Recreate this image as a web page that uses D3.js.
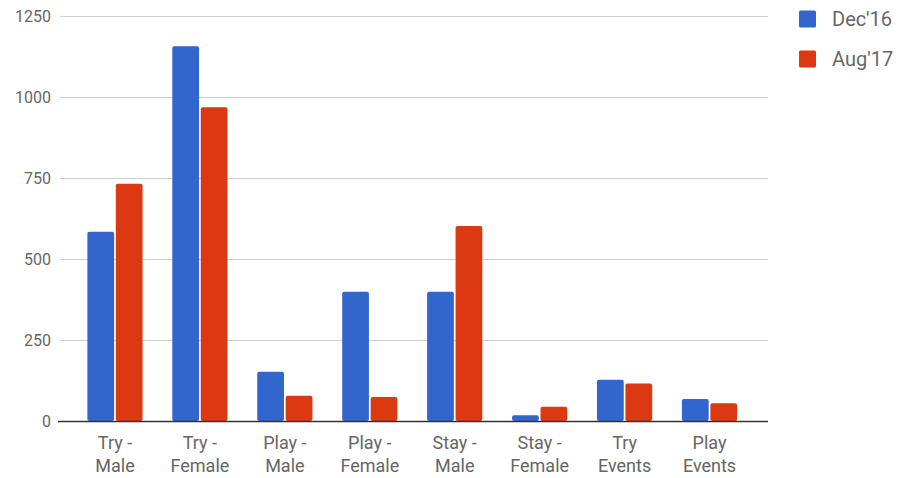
<!DOCTYPE html>
<html><head><meta charset="utf-8">
<script src="https://cdn.jsdelivr.net/npm/d3@7"></script>
<style>html,body{margin:0;padding:0;background:#fff;}svg{display:block;}</style>
</head><body>
<svg id="c" width="914" height="478"></svg>
<script>
const categories = [["Try -","Male"],["Try -","Female"],["Play -","Male"],["Play -","Female"],["Stay -","Male"],["Stay -","Female"],["Try","Events"],["Play","Events"]];
const seriesNames = ["Dec'16","Aug'17"];
const dec16 = [584, 1157, 152, 399, 399, 18, 127, 68];
const aug17 = [732, 968, 78, 74, 602, 44, 116, 55];
const yTicks = [0, 250, 500, 750, 1000, 1250];
const colors = ["#3366cc", "#dc3912"];

const svg = d3.select("#c");
const y = d3.scaleLinear().domain([0, 1250]).range([421, 16]);
const x0 = d3.scaleBand().domain(d3.range(categories.length)).range([72.5, 752]).paddingInner(0.35).paddingOuter(0.175);
const x1 = d3.scaleBand().domain([0,1]).range([0, x0.bandwidth()]).paddingInner(0.06);

// grid
const yAxis = d3.axisLeft(y).tickValues(yTicks).tickSize(-708).tickFormat(d3.format("d")).tickPadding(9);
const gy = svg.append("g").attr("transform","translate(60,0)").call(yAxis);
gy.select(".domain").remove();
gy.selectAll(".tick line").attr("stroke","#d0d0d0").attr("stroke-width",1);
gy.selectAll(".tick text").attr("fill","#666").style("font-family","Roboto, sans-serif").style("font-size","16px");

// bars
const data = [dec16, aug17];
const groups = svg.append("g").selectAll("g").data(categories).join("g")
  .attr("transform", (d,i) => `translate(${x0(i)},0)`);
groups.selectAll("rect").data((d,i) => data.map((s,k) => ({k, v: s[i]}))).join("rect")
  .attr("x", d => x1(d.k)).attr("width", x1.bandwidth())
  .attr("y", d => y(d.v)).attr("height", d => y(0) - y(d.v))
  .attr("rx", 2).attr("fill", d => colors[d.k]);

// baseline
svg.append("line").attr("x1",58).attr("x2",768).attr("y1",y(0)+0.5).attr("y2",y(0)+0.5)
  .attr("stroke","#333").attr("stroke-width",1.5);

// x labels
const xl = svg.append("g").selectAll("text").data(categories).join("text")
  .attr("x", (d,i) => x0(i) + x0.bandwidth()/2).attr("y", 449)
  .attr("text-anchor","middle").attr("fill","#666")
  .style("font-family","Roboto, sans-serif").style("font-size","18px");
xl.each(function(d){
  const t = d3.select(this);
  t.append("tspan").attr("x", t.attr("x")).text(d[0]);
  t.append("tspan").attr("x", t.attr("x")).attr("dy", 23).text(d[1]);
});

// legend
const lg = svg.append("g").selectAll("g").data(seriesNames).join("g")
  .attr("transform", (d,i) => `translate(799,${10.5 + i*40})`);
lg.append("rect").attr("width",17).attr("height",17).attr("rx",1.5).attr("fill",(d,i)=>colors[i]);
lg.append("text").attr("x",33).attr("y",15.5).text(d=>d).attr("fill","#666")
  .style("font-family","Roboto, sans-serif").style("font-size","20px");
</script>
</body></html>
